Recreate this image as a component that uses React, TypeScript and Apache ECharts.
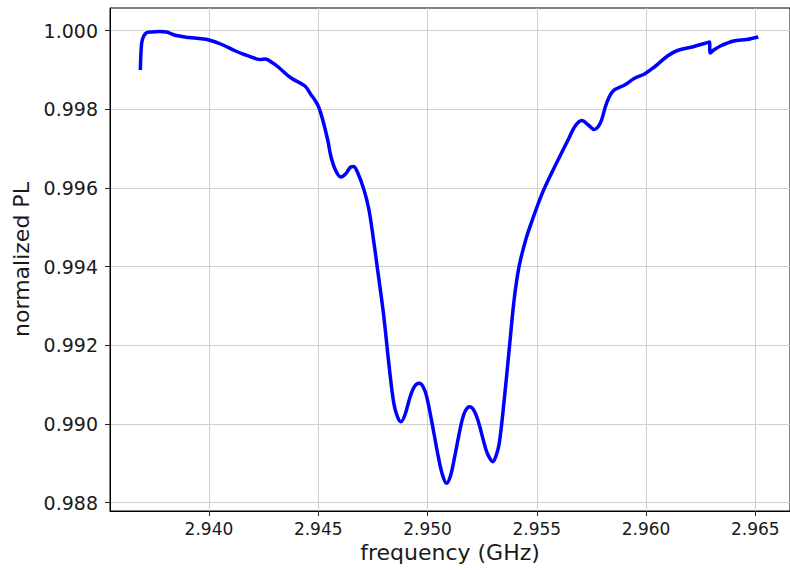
import React, { useEffect, useRef } from "react";
import * as echarts from "echarts";

const freq = [
  2.936861, 2.936898, 2.936952, 2.937133, 2.937373, 2.937736, 2.938053, 2.938505, 2.939094, 2.939547,
  2.94, 2.940589, 2.941223, 2.941676, 2.942129, 2.942355, 2.942582, 2.942853, 2.94317, 2.943759,
  2.944393, 2.944678, 2.944846, 2.945014, 2.945208, 2.945435, 2.945584, 2.945811, 2.946037, 2.94625,
  2.94649, 2.946612, 2.946793, 2.947097, 2.947323, 2.947518, 2.947699, 2.948003, 2.948229, 2.948456,
  2.948628, 2.948786, 2.948967, 2.949207, 2.94942, 2.949633, 2.949805, 2.949964, 2.950267, 2.950494,
  2.950688, 2.95087, 2.951051, 2.951245, 2.951549, 2.95173, 2.951925, 2.952115, 2.952305, 2.952681,
  2.95284, 2.952985, 2.953134, 2.953284, 2.95351, 2.953736, 2.953963, 2.954189, 2.954493, 2.954796,
  2.955249, 2.955702, 2.956155, 2.956454, 2.956757, 2.957061, 2.95736, 2.957632, 2.957799, 2.957966,
  2.958193, 2.958492, 2.959022, 2.959475, 2.959928, 2.96038, 2.960983, 2.961436, 2.962192, 2.962794,
  2.962894, 2.96294, 2.963098, 2.963401, 2.964004, 2.964606, 2.965136,
];

const pl = [
  0.999001, 0.999509, 0.999764, 0.999942, 0.999967, 0.99998, 0.999967, 0.999878, 0.999827, 0.999802,
  0.999764, 0.999649, 0.999484, 0.999382, 0.999293, 0.999268, 0.999281, 0.999204, 0.999077, 0.998797,
  0.998594, 0.998365, 0.998238, 0.998068, 0.99773, 0.997221, 0.996797, 0.996433, 0.996281, 0.996357,
  0.996535, 0.996547, 0.996408, 0.99595, 0.995442, 0.99473, 0.994, 0.992729, 0.991552, 0.990535,
  0.990179, 0.990059, 0.99023, 0.990695, 0.990967, 0.991036, 0.990942, 0.990695, 0.989848, 0.98917,
  0.988704, 0.988493, 0.988679, 0.98917, 0.990019, 0.990331, 0.990441, 0.990357, 0.990103, 0.98934,
  0.989137, 0.989042, 0.989187, 0.98951, 0.990611, 0.991882, 0.993153, 0.994, 0.994679, 0.995187,
  0.995866, 0.996408, 0.996916, 0.997247, 0.997577, 0.997717, 0.997603, 0.997488, 0.997552, 0.99773,
  0.998154, 0.998467, 0.99862, 0.99879, 0.998899, 0.999077, 0.999357, 0.999497, 0.999598, 0.999695,
  0.999713, 0.999433, 0.999509, 0.999611, 0.999738, 0.999776, 0.99984,
];

const xTicks = [2.94, 2.945, 2.95, 2.955, 2.96, 2.965];
const yTicks = [0.988, 0.99, 0.992, 0.994, 0.996, 0.998, 1.0];

const xMin = 2.935473;
const xMax = 2.966587;
const yMin = 0.987789;
const yMax = 1.000577;

export default function App() {
  const ref = useRef<HTMLDivElement>(null);
  useEffect(() => {
    if (!ref.current) return;
    const chart = echarts.init(ref.current, null, { renderer: "svg" });
    const font = "'DejaVu Sans', sans-serif";
    chart.setOption({
      animation: false,
      backgroundColor: "#ffffff",
      grid: {
        left: 110,
        top: 8,
        width: 687,
        height: 503,
        show: true,
        borderColor: "#000000",
        borderWidth: 1,
        backgroundColor: "transparent",
      },
      xAxis: {
        type: "value",
        min: xMin,
        max: xMax,
        name: "frequency (GHz)",
        nameLocation: "middle",
        nameGap: 28,
        nameTextStyle: { fontFamily: font, fontSize: 22, color: "#1a1a1a" },
        axisLine: { show: true, onZero: false, lineStyle: { color: "#000", width: 1 } },
        axisTick: {
          show: true,
          length: 5,
          inside: false,
          customValues: xTicks,
          lineStyle: { color: "#222", width: 1 },
        },
        axisLabel: {
          customValues: xTicks,
          margin: 9,
          fontFamily: font,
          fontSize: 17,
          color: "#1a1a1a",
          formatter: (v: number) => v.toFixed(3),
        },
        splitLine: { show: true, lineStyle: { color: "#cfcfcf", width: 1 } },
      },
      yAxis: {
        type: "value",
        min: yMin,
        max: yMax,
        name: "normalized PL",
        nameLocation: "middle",
        nameGap: 71,
        nameTextStyle: { fontFamily: font, fontSize: 22, color: "#1a1a1a" },
        axisLine: { show: true, onZero: false, lineStyle: { color: "#000", width: 1 } },
        axisTick: {
          show: true,
          length: 5,
          inside: false,
          customValues: yTicks,
          lineStyle: { color: "#222", width: 1 },
        },
        axisLabel: {
          customValues: yTicks,
          margin: 12,
          fontFamily: font,
          fontSize: 19,
          color: "#1a1a1a",
          formatter: (v: number) => v.toFixed(3),
        },
        splitLine: { show: true, lineStyle: { color: "#cfcfcf", width: 1 } },
      },
      series: [
        {
          type: "line",
          data: freq.map((f, i) => [f, pl[i]]),
          showSymbol: false,
          smooth: 0.35,
          lineStyle: { color: "#0000ff", width: 3.5 },
          itemStyle: { color: "#0000ff" },
        },
      ],
    });
    return () => chart.dispose();
  }, []);
  return (
    <div
      ref={ref}
      style={{ position: "absolute", left: 0, top: 0, width: 790, height: 570 }}
    />
  );
}
